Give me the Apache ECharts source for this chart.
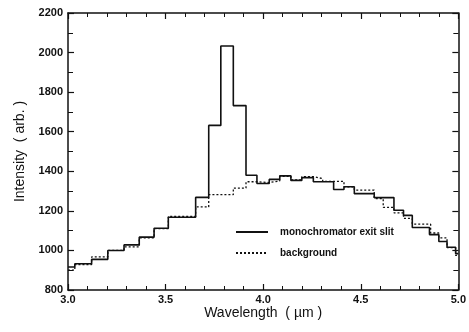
<!DOCTYPE html>
<html>
<head>
<meta charset="utf-8">
<script src="https://cdn.jsdelivr.net/npm/echarts@6/dist/echarts.min.js"></script>
<style>
  html, body { margin: 0; padding: 0; background: #fff; }
  #chart { width: 469px; height: 332px; }
</style>
</head>
<body>
<div id="chart"></div>
<script>
// bin left edges (µm) and intensities
const slitEdges = [3.000, 3.035, 3.121, 3.204, 3.287, 3.365, 3.441, 3.514, 3.654, 3.721,
  3.783, 3.847, 3.912, 3.968, 4.031, 4.085, 4.142, 4.198, 4.257, 4.361,
  4.414, 4.467, 4.569, 4.670, 4.719, 4.764, 4.852, 4.900, 4.942, 4.986];
const slitValues = [916, 933, 955, 1000, 1028, 1067, 1112, 1168, 1268, 1632,
  2033, 1732, 1380, 1338, 1359, 1377, 1354, 1368, 1347, 1308,
  1322, 1287, 1267, 1203, 1177, 1116, 1080, 1045, 1016, 984];

const bgEdges = [3.000, 3.035, 3.121, 3.204, 3.287, 3.365, 3.441, 3.514, 3.654, 3.721,
  3.847, 3.912, 3.968, 4.031, 4.085, 4.142, 4.198, 4.257, 4.305, 4.414,
  4.467, 4.569, 4.615, 4.670, 4.719, 4.764, 4.858, 4.900, 4.942, 4.986];
const bgValues = [900, 928, 967, 1000, 1018, 1063, 1110, 1172, 1220, 1282,
  1315, 1347, 1343, 1351, 1375, 1357, 1373, 1363, 1349, 1321,
  1305, 1262, 1218, 1190, 1162, 1133, 1088, 1063, 1014, 975];

const xMin = 3.0, xMax = 5.0;
const yMin = 800, yMax = 2200;

function toSteps(edges, values) {
  const pts = edges.map((e, i) => [e, values[i]]);
  pts.push([xMax, values[values.length - 1]]);
  return pts;
}

const chart = echarts.init(document.getElementById('chart'));

const font = 'Liberation Sans, Arial, Helvetica, sans-serif';
const axisColor = '#111';

const tickCommon = {
  axisLine: { show: true, lineStyle: { color: axisColor, width: 1.5 } },
  axisTick: { show: true, inside: true, length: 6, lineStyle: { color: axisColor, width: 1.2 } },
  splitLine: { show: false },
};

chart.setOption({
  animation: false,
  backgroundColor: '#fff',
  textStyle: { fontFamily: font },
  grid: { left: 68, right: 4, top: 13, bottom: 42 },
  legend: {
    orient: 'vertical',
    left: 235,
    top: 227,
    padding: 0,
    itemWidth: 32,
    itemHeight: 10,
    itemGap: 11,
    itemStyle: { opacity: 0 },
    textStyle: { fontSize: 10, fontWeight: 'bold', color: '#111', padding: [0, 0, 0, 7] },
    data: ['monochromator exit slit', 'background'],
  },
  xAxis: [
    {
      type: 'value', min: xMin, max: xMax, interval: 0.5,
      name: 'Wavelength  ( µm )', nameLocation: 'middle', nameGap: 16,
      nameMoveOverlap: false,
      nameTextStyle: { fontSize: 14, color: '#111' },
      axisLabel: { fontSize: 11, fontWeight: 'bold', color: '#111', margin: 4,
        formatter: v => v.toFixed(1) },
      minorTick: { show: true, splitNumber: 5, length: 4, lineStyle: { color: axisColor, width: 1 } },
      ...tickCommon,
    },
    {
      type: 'value', position: 'top', min: xMin, max: xMax, interval: 0.5,
      axisLabel: { show: false },
      minorTick: { show: true, splitNumber: 5, length: 4, lineStyle: { color: axisColor, width: 1 } },
      ...tickCommon,
    },
  ],
  yAxis: [
    {
      type: 'value', min: yMin, max: yMax, interval: 200,
      name: 'Intensity  ( arb. )', nameLocation: 'middle', nameGap: 39,
      nameTextStyle: { fontSize: 14, color: '#111' },
      axisLabel: { fontSize: 11, fontWeight: 'bold', color: '#111', margin: 5,
        formatter: v => String(v) },
      minorTick: { show: true, splitNumber: 2, length: 5, lineStyle: { color: axisColor, width: 1 } },
      ...tickCommon,
    },
    {
      type: 'value', position: 'right', min: yMin, max: yMax, interval: 200,
      axisLabel: { show: false },
      minorTick: { show: true, splitNumber: 2, length: 5, lineStyle: { color: axisColor, width: 1 } },
      ...tickCommon,
    },
  ],
  series: [
    {
      name: 'monochromator exit slit',
      type: 'line',
      step: 'end',
      symbol: 'none',
      data: toSteps(slitEdges, slitValues),
      lineStyle: { color: '#111', width: 1.6 },
      itemStyle: { color: '#111' },
      z: 3,
    },
    {
      name: 'background',
      type: 'line',
      step: 'end',
      symbol: 'none',
      data: toSteps(bgEdges, bgValues),
      lineStyle: { color: '#111', width: 1.3, type: [2, 2] },
      itemStyle: { color: '#111' },
      z: 2,
    },
  ],
});
</script>
</body>
</html>
